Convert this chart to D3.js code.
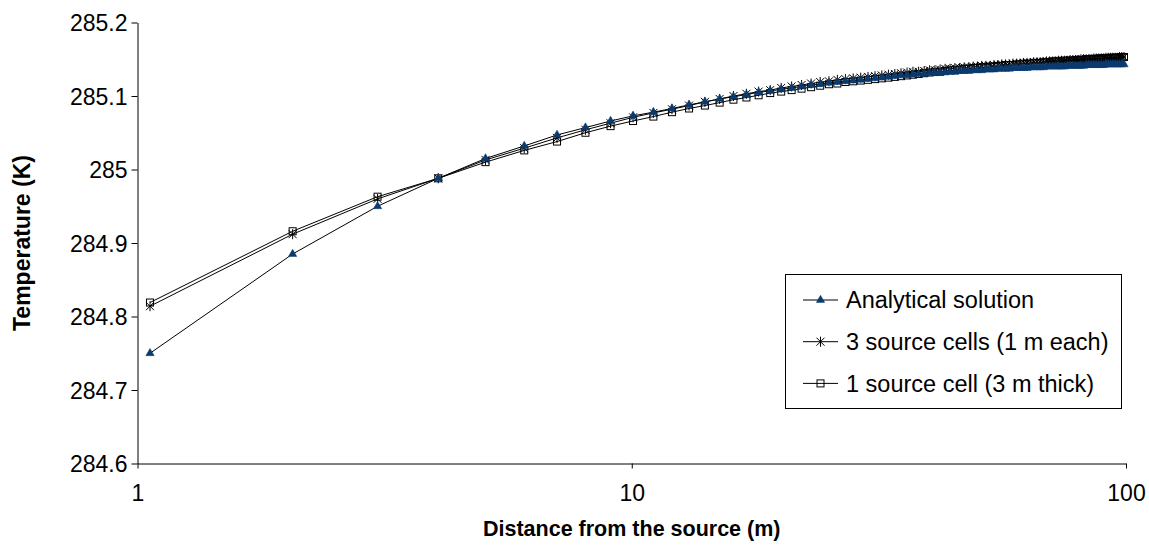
<!DOCTYPE html>
<html><head><meta charset="utf-8">
<script src="https://cdn.jsdelivr.net/npm/d3@7"></script>
<style>body{margin:0;background:#fff}svg{display:block;font-family:"Liberation Sans",Arial,sans-serif}</style>
</head><body><svg id="c" width="1149" height="548"></svg>
<script>
const distances = [1.06,2.06,3.06,4.06,5.06,6.06,7.06,8.06,9.06,10.06,11.06,12.06,13.06,14.06,15.06,16.06,17.06,18.06,19.06,20.06,21.06,22.06,23.06,24.06,25.06,26.06,27.06,28.06,29.06,30.06,31.06,32.06,33.06,34.06,35.06,36.06,37.06,38.06,39.06,40.06,41.06,42.06,43.06,44.06,45.06,46.06,47.06,48.06,49.06,50.06,51.06,52.06,53.06,54.06,55.06,56.06,57.06,58.06,59.06,60.06,61.06,62.06,63.06,64.06,65.06,66.06,67.06,68.06,69.06,70.06,71.06,72.06,73.06,74.06,75.06,76.06,77.06,78.06,79.06,80.06,81.06,82.06,83.06,84.06,85.06,86.06,87.06,88.06,89.06,90.06,91.06,92.06,93.06,94.06,95.06,96.06,97.06,98.06,99.06];
const analytical = [284.750,284.885,284.950,284.988,285.015,285.032,285.047,285.057,285.066,285.073,285.078,285.083,285.088,285.092,285.096,285.099,285.102,285.105,285.107,285.109,285.111,285.113,285.115,285.116,285.118,285.119,285.120,285.121,285.122,285.123,285.124,285.125,285.126,285.127,285.128,285.128,285.129,285.130,285.130,285.131,285.131,285.132,285.132,285.133,285.133,285.134,285.134,285.134,285.135,285.135,285.135,285.136,285.136,285.136,285.137,285.137,285.137,285.137,285.138,285.138,285.138,285.138,285.138,285.139,285.139,285.139,285.139,285.139,285.140,285.140,285.140,285.140,285.140,285.140,285.140,285.141,285.141,285.141,285.141,285.141,285.141,285.141,285.142,285.142,285.142,285.142,285.142,285.142,285.142,285.142,285.143,285.143,285.143,285.143,285.143,285.143,285.143,285.143,285.143];
const threeCells = [284.814,284.912,284.960,284.988,285.013,285.029,285.043,285.054,285.063,285.071,285.077,285.082,285.087,285.092,285.096,285.100,285.103,285.106,285.108,285.111,285.113,285.115,285.117,285.119,285.120,285.122,285.123,285.124,285.125,285.126,285.127,285.128,285.129,285.130,285.131,285.132,285.133,285.133,285.134,285.135,285.135,285.136,285.137,285.137,285.138,285.138,285.139,285.139,285.140,285.140,285.141,285.141,285.141,285.142,285.142,285.143,285.143,285.143,285.144,285.144,285.144,285.145,285.145,285.145,285.146,285.146,285.146,285.146,285.147,285.147,285.147,285.147,285.148,285.148,285.148,285.148,285.149,285.149,285.149,285.149,285.150,285.150,285.150,285.150,285.150,285.151,285.151,285.151,285.151,285.151,285.152,285.152,285.152,285.152,285.152,285.152,285.153,285.153,285.153];
const oneCell = [284.819,284.916,284.963,284.988,285.010,285.026,285.038,285.050,285.059,285.066,285.072,285.078,285.083,285.087,285.091,285.095,285.098,285.101,285.104,285.106,285.108,285.110,285.112,285.114,285.116,285.117,285.119,285.120,285.121,285.122,285.123,285.124,285.125,285.126,285.127,285.128,285.129,285.130,285.131,285.132,285.133,285.133,285.134,285.135,285.135,285.136,285.137,285.137,285.138,285.138,285.139,285.139,285.140,285.140,285.141,285.141,285.142,285.142,285.142,285.143,285.143,285.144,285.144,285.144,285.145,285.145,285.145,285.146,285.146,285.146,285.147,285.147,285.147,285.147,285.148,285.148,285.148,285.148,285.149,285.149,285.149,285.149,285.150,285.150,285.150,285.150,285.150,285.151,285.151,285.151,285.151,285.151,285.152,285.152,285.152,285.152,285.152,285.153,285.153];
const yTicks = [284.6,284.7,284.8,284.9,285,285.1,285.2];
const xTicks = [1,10,100];
const seriesNames = ["Analytical solution","3 source cells (1 m each)","1 source cell (3 m thick)"];

const FS = 23;
const svg = d3.select("#c");
const L=137.5, R=1126, T=22.5, B=463.5;
const x = d3.scaleLog().domain([1,100]).range([L,R]);
const y = d3.scaleLinear().domain([284.6,285.2]).range([B,T]);

const ax = svg.append("g").attr("transform",`translate(${L},0)`)
  .call(d3.axisLeft(y).tickValues(yTicks).tickFormat(d=>d3.format("")(+d.toFixed(1))).tickSize(6).tickSizeOuter(0));
ax.selectAll("text").attr("font-size",FS).attr("fill","#000").attr("x",-10).attr("dy","0.35em");
ax.selectAll("line,path").attr("stroke","#000");
const bx = svg.append("g").attr("transform",`translate(0,${B})`)
  .call(d3.axisBottom(x).tickValues(xTicks).tickFormat(d3.format("d")).tickSize(5).tickSizeOuter(0));
bx.selectAll("text").attr("font-size",FS).attr("fill","#000").attr("y",21).attr("dy","0.71em");
bx.selectAll("line,path").attr("stroke","#000");

svg.append("text").attr("transform",`translate(30,${(T+B)/2}) rotate(-90)`).attr("text-anchor","middle")
  .attr("font-size",FS).attr("font-weight","bold").text("Temperature (K)");
svg.append("text").attr("x",(L+R)/2).attr("y",536).attr("text-anchor","middle")
  .attr("font-size",21.5).attr("font-weight","bold").text("Distance from the source (m)");

const line = d3.line().x((d,i)=>x(distances[i])).y(d=>y(d));
const all = [analytical, threeCells, oneCell];
const g = svg.append("g");
all.forEach(s=>g.append("path").attr("d",line(s)).attr("fill","none").attr("stroke","#000").attr("stroke-width",1));

const tri = d3.symbol().type(d3.symbolTriangle).size(30);
function drawMarker(sel, k){
  if(k===0){ sel.append("path").attr("d",tri()).attr("fill","#0a3a6e").attr("stroke","#0a3a6e").attr("stroke-width",0.5); }
  else if(k===1){ sel.append("path").attr("d","M-4,-4L4,4M-4,4L4,-4M0,-5L0,5").attr("stroke","#000").attr("stroke-width",1).attr("fill","none"); }
  else { sel.append("rect").attr("x",-3.5).attr("y",-3.5).attr("width",7).attr("height",7).attr("fill","none").attr("stroke","#000").attr("stroke-width",1); }
}
[oneCell, threeCells, analytical].forEach(s=>{
  const k = all.indexOf(s);
  s.forEach((v,i)=>{ drawMarker(g.append("g").attr("transform",`translate(${x(distances[i])},${y(v)})`), k); });
});

const lg = svg.append("g");
lg.append("rect").attr("x",785.5).attr("y",274.5).attr("width",336).attr("height",134).attr("fill","#fff").attr("stroke","#000").attr("stroke-width",1);
seriesNames.forEach((n,k)=>{
  const cy = 300 + k*41.7;
  lg.append("line").attr("x1",803).attr("x2",838).attr("y1",cy).attr("y2",cy).attr("stroke","#000");
  drawMarker(lg.append("g").attr("transform",`translate(820.5,${cy})`), k);
  lg.append("text").attr("x",846).attr("y",cy).attr("dy","0.36em").attr("font-size",23.5).text(n);
});
</script></body></html>
